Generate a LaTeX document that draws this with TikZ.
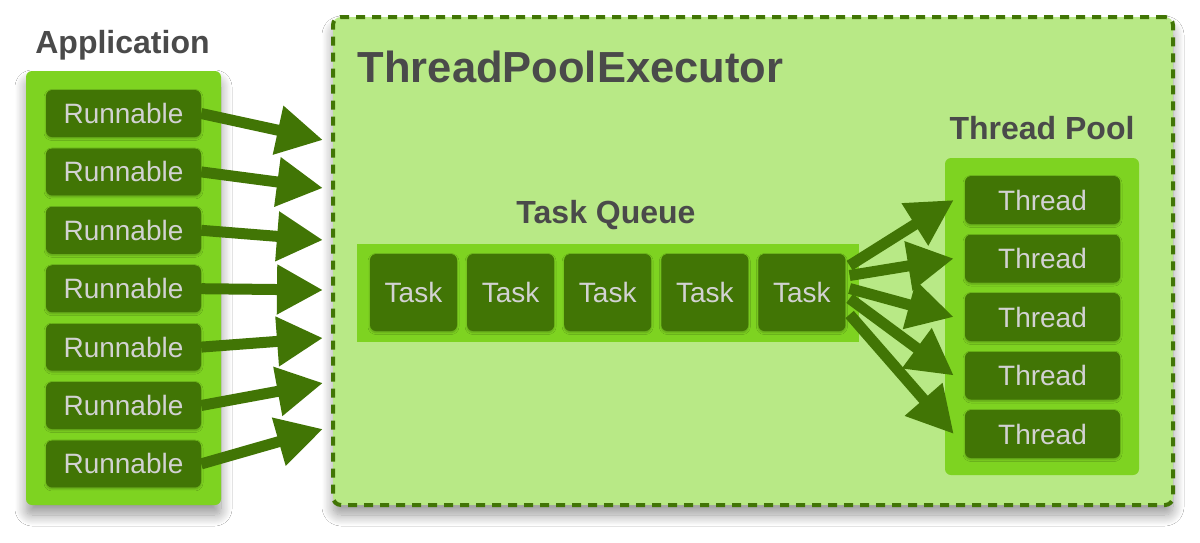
\documentclass[tikz,border=0pt]{standalone}
\usepackage{fontspec}
\setmainfont{Liberation Sans}
\usetikzlibrary{arrows.meta,shadows.blur,calc}
\definecolor{dkgreen}{HTML}{417505}
\definecolor{brgreen}{HTML}{7ED321}
\definecolor{ltgreen}{HTML}{B8E986}
\definecolor{titlegray}{HTML}{4A4A4A}
\definecolor{boxtext}{HTML}{D2D2D2}
\begin{document}
\begin{tikzpicture}[x=1pt,y=-1pt,
  bigshadow/.style={blur shadow={shadow xshift=0pt,shadow yshift=-10pt,shadow blur radius=11pt,shadow blur steps=14,shadow opacity=40}},
  smallshadow/.style={blur shadow={shadow xshift=0pt,shadow yshift=-1.5pt,shadow blur radius=2pt,shadow opacity=25}},
  appbox/.style={fill=brgreen, rounded corners=6pt, inner sep=0pt, bigshadow},
  execbox/.style={fill=ltgreen, draw=dkgreen, line width=4pt, dash pattern=on 9pt off 7pt, rounded corners=8pt, inner sep=0pt, bigshadow},
  groupbox/.style={fill=brgreen, inner sep=0pt},
  item/.style={fill=dkgreen, rounded corners=6pt, text=boxtext, font=\fontsize{28}{30}\selectfont, inner sep=0pt, smallshadow},
  runbox/.style={item, minimum width=155pt, minimum height=47pt},
  thrbox/.style={item, minimum width=155pt, minimum height=48pt},
  taskbox/.style={item, minimum width=87pt, minimum height=77pt},
  lbl/.style={text=titlegray, font=\bfseries\fontsize{32}{34}\selectfont, inner sep=0pt, anchor=base},
  conn/.style={draw=dkgreen, line width=11pt, -{Triangle[length=46pt,width=47pt]}}
]
\useasboundingbox (0,0) rectangle (1200,542);
\fill[white] (0,0) rectangle (1200,542);

% executor
\node[execbox, minimum width=840pt, minimum height=488pt] (exec) at (753,261) {};
\node[lbl, font=\bfseries\fontsize{43.5}{46}\selectfont] (execlbl) at (570.5,82) {ThreadPoolExecutor};

% task queue
\node[lbl] (queuelbl) at (606,223) {Task Queue};
\node[groupbox, minimum width=502pt, minimum height=98pt] (queue) at (608,293) {};
\foreach \i in {1,...,5}{
  \node[taskbox] (t\i) at ({413.5+97.1*(\i-1)},292.5) {Task};
}

% thread pool
\node[lbl] (poollbl) at (1042,139) {Thread Pool};
\node[groupbox, rounded corners=6pt, minimum width=194pt, minimum height=317pt] (pool) at (1042,316.5) {};
\foreach \i in {1,...,5}{
  \node[thrbox] (th\i) at (1042.5,{200+58.5*(\i-1)}) {Thread};
}

% application
\node[lbl] (applbl) at (122.5,53) {Application};
\node[appbox, minimum width=195pt, minimum height=434pt] (app) at (123.5,288) {};
\foreach \i in {1,...,7}{
  \node[runbox] (r\i) at (123.5,{113.5+58.4*(\i-1)}) {Runnable};
}

% arrows into the executor
\coordinate (in1) at (323,140);
\coordinate (in2) at (323,188);
\coordinate (in3) at (323,240);
\coordinate (in4) at (323,290);
\coordinate (in5) at (323,338);
\coordinate (in6) at (323,383);
\coordinate (in7) at (323,429);
\foreach \i in {1,...,7}{
  \draw[conn] (r\i.east) -- (in\i);
}

% arrows from the last task to the threads
\coordinate (o1) at ($(t5.east)+(4,-27)$);
\coordinate (o2) at ($(t5.east)+(4,-17)$);
\coordinate (o3) at ($(t5.east)+(4,-4)$);
\coordinate (o4) at ($(t5.east)+(4,6)$);
\coordinate (o5) at ($(t5.east)+(4,22)$);
\foreach \i in {1,...,5}{
  \draw[conn] (o\i) -- ([xshift=-11pt]th\i.west);
}
\end{tikzpicture}
\end{document}
